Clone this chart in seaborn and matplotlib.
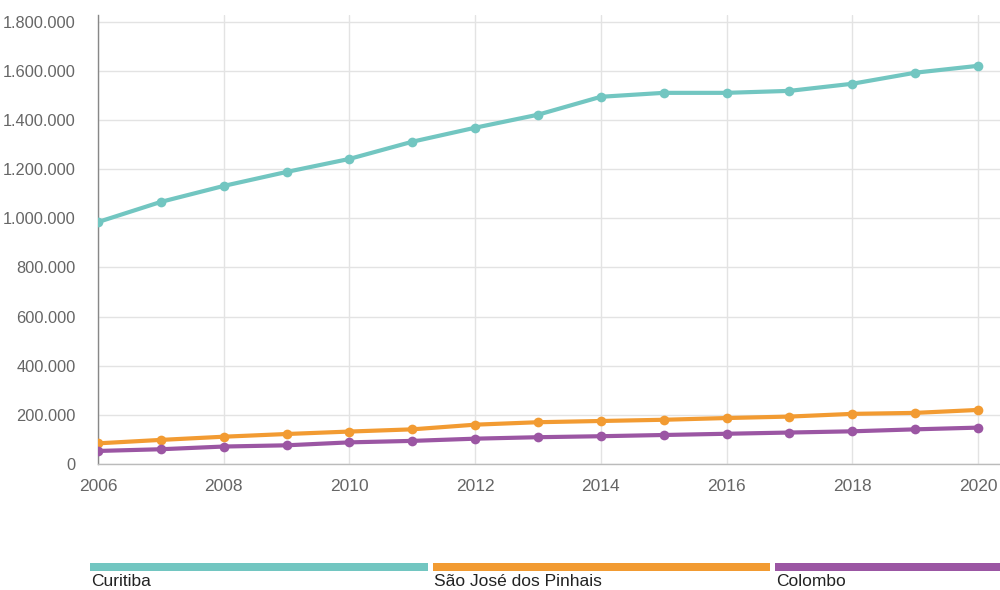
import matplotlib
matplotlib.use("Agg")
import matplotlib.pyplot as plt
import matplotlib.ticker as mticker
from matplotlib.patches import Rectangle
import seaborn as sns
import pandas as pd

years = list(range(2006, 2021))
curitiba = [985000, 1067000, 1132000, 1189000, 1242000, 1312000, 1369000, 1422000,
            1495000, 1511000, 1511000, 1519000, 1548000, 1593000, 1621000]
sao_jose = [84000, 98000, 111000, 122000, 132000, 141000, 160000, 170000,
            175000, 180000, 187000, 193000, 204000, 208000, 220000]
colombo = [53000, 60000, 71000, 76000, 88000, 94000, 103000, 109000,
           113000, 118000, 123000, 128000, 133000, 141000, 148000]
series_names = ["Curitiba", "São José dos Pinhais", "Colombo"]
colors = ["#72C6C1", "#F29B32", "#9B56A3"]

rows = []
for name, vals in zip(series_names, [curitiba, sao_jose, colombo]):
    for y, v in zip(years, vals):
        rows.append({"ano": y, "valor": v, "cidade": name})
df = pd.DataFrame(rows)

sns.set_theme(style="white")
plt.rcParams["font.family"] = ["Liberation Sans", "DejaVu Sans"]

fig = plt.figure(figsize=(10, 5.9), dpi=100)
ax = fig.add_axes([0.098, 0.2136, 0.902, 0.761])

sns.lineplot(data=df, x="ano", y="valor", hue="cidade", palette=colors,
             hue_order=series_names, marker="o", markersize=7, markeredgewidth=0,
             linewidth=3, ax=ax, legend=False, zorder=3)

ax.set_xlim(2006, 2020.35)
ax.set_ylim(0, 1828000)
ax.set_xticks(list(range(2006, 2021, 2)))
ax.set_yticks(list(range(0, 1800001, 200000)))
ax.yaxis.set_major_formatter(mticker.FuncFormatter(lambda v, p: f"{int(v):,}".replace(",", ".")))
ax.grid(True, color="#e3e3e3", linewidth=1)
ax.set_xlabel("")
ax.set_ylabel("")
for s in ["top", "right"]:
    ax.spines[s].set_visible(False)
ax.spines["left"].set_color("#888888")
ax.spines["bottom"].set_color("#bbbbbb")
ax.spines["left"].set_linewidth(1)
ax.spines["bottom"].set_linewidth(1)
ax.tick_params(axis="x", labelsize=12.5, colors="#666666", length=5, width=1, pad=6)
ax.tick_params(axis="y", labelsize=11.8, colors="#666666", length=5, width=1, pad=11)
ax.tick_params(axis="both", which="major", color="#cccccc")

# legend strips
lx = [0.090, 0.433, 0.775]
lw = [0.338, 0.337, 0.23]
for x0, w, c, name in zip(lx, lw, colors, series_names):
    fig.add_artist(Rectangle((x0, 0.0322), w, 0.0136, transform=fig.transFigure,
                             facecolor=c, edgecolor="none"))
    fig.text(x0 + 0.001, 0.0140, name, fontsize=12.5, color="#222222", va="center", ha="left")

fig.savefig("out.png", dpi=100)
